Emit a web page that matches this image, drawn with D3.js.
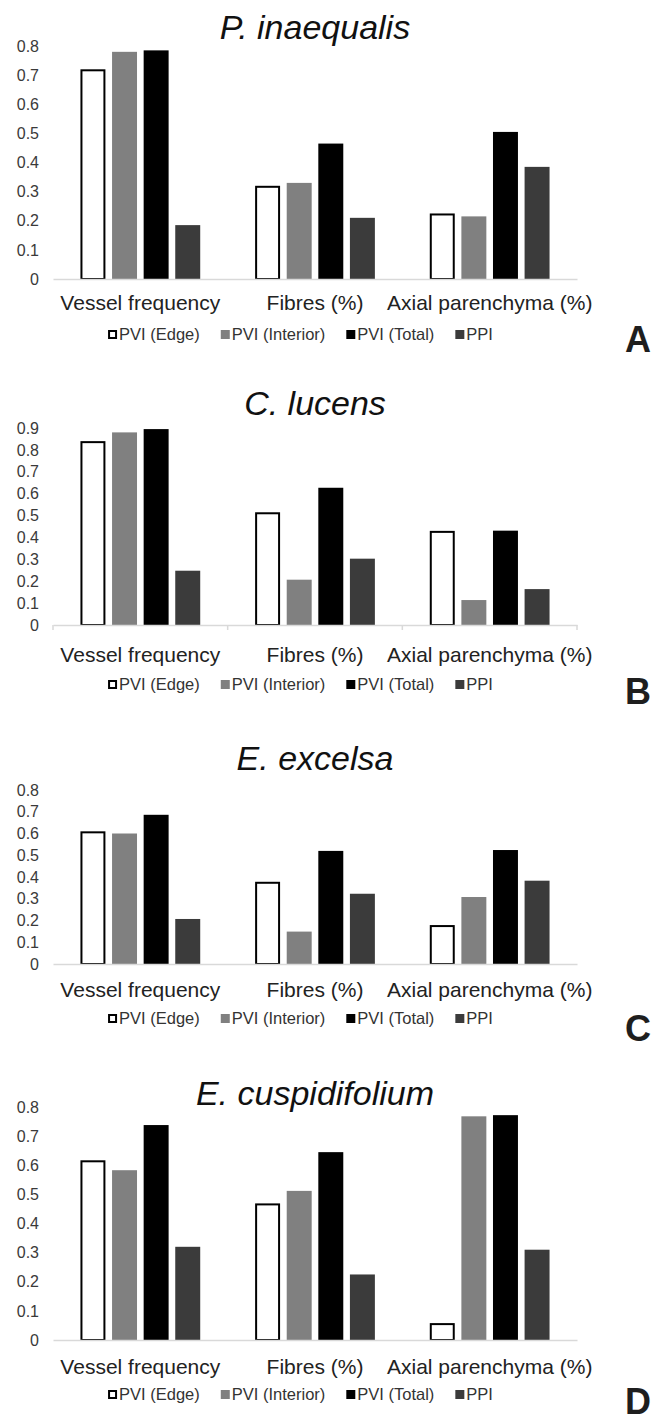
<!DOCTYPE html>
<html>
<head>
<meta charset="utf-8">
<script src="https://cdn.jsdelivr.net/npm/d3@7"></script>
<style>
  html, body { margin: 0; padding: 0; background: #ffffff; }
  svg { display: block; }
</style>
</head>
<body>
<script>
// Anatomical variables on the x axis, index series in the legend
const categories = ["Vessel frequency", "Fibres (%)", "Axial parenchyma (%)"];
const seriesNames = ["PVI (Edge)", "PVI (Interior)", "PVI (Total)", "PPI"];

// Species shown in each panel, with their panel letters
const speciesTitles = ["P. inaequalis", "C. lucens", "E. excelsa", "E. cuspidifolium"];
const panelLetters = ["A", "B", "C", "D"];
const axisMaxima = [0.8, 0.9, 0.8, 0.8];

// Index values per species: one row per category, columns follow seriesNames
const inaequalisValues = [
  [0.72, 0.78, 0.785, 0.185],
  [0.32, 0.33, 0.465, 0.21],
  [0.225, 0.215, 0.505, 0.385]
];
const lucensValues = [
  [0.84, 0.88, 0.895, 0.248],
  [0.515, 0.207, 0.627, 0.303],
  [0.43, 0.114, 0.431, 0.164]
];
const excelsaValues = [
  [0.61, 0.60, 0.686, 0.207],
  [0.378, 0.149, 0.52, 0.323],
  [0.179, 0.308, 0.524, 0.383]
];
const cuspidifoliumValues = [
  [0.617, 0.583, 0.738, 0.32],
  [0.469, 0.512, 0.645, 0.225],
  [0.058, 0.768, 0.772, 0.31]
];
const panelValues = [inaequalisValues, lucensValues, excelsaValues, cuspidifoliumValues];

// Vertical placement of each panel's parts
const panelLayout = [
  { top: 46,   base: 279,  title: 39,   cat: 310,  legend: 340,  letter: 352,  ticks: false },
  { top: 428,  base: 625,  title: 415,  cat: 662,  legend: 690,  letter: 704,  ticks: true },
  { top: 790,  base: 964,  title: 770,  cat: 997,  legend: 1024, letter: 1041, ticks: false },
  { top: 1107, base: 1340, title: 1105, cat: 1374, legend: 1400, letter: 1414, ticks: false }
];

const FONT = "'Liberation Sans', Arial, Helvetica, sans-serif";
const fills = { "PVI (Edge)": "#ffffff", "PVI (Interior)": "#808080", "PVI (Total)": "#000000", "PPI": "#3b3b3b" };

const svg = d3.select("body").append("svg")
  .attr("width", 656).attr("height", 1423)
  .style("font-family", FONT);

const x0 = d3.scaleBand().domain(categories).range([53, 577]).padding(0);
const x1 = d3.scaleBand().domain(seriesNames).range([-63.2, 63.2])
  .paddingInner(0.21).paddingOuter(0.105);

panelLayout.forEach((L, p) => {
  const g = svg.append("g");
  const yMax = axisMaxima[p];
  const y = d3.scaleLinear().domain([0, yMax]).range([L.base, L.top]);

  // species title
  g.append("text")
    .attr("x", (x0.range()[0] + x0.range()[1]) / 2)
    .attr("y", L.title)
    .attr("text-anchor", "middle")
    .style("font-size", "34px").style("font-style", "italic")
    .attr("fill", "#111")
    .text(speciesTitles[p]);

  // y axis labels
  const tickVals = d3.range(0, Math.round(yMax * 10) + 1).map(i => i / 10);
  const yAxis = d3.axisLeft(y).tickValues(tickVals).tickSize(0).tickPadding(14)
    .tickFormat(d => d === 0 ? "0" : d3.format(".1f")(d));
  const ya = g.append("g").attr("transform", "translate(53,0)").call(yAxis);
  ya.select(".domain").remove();
  ya.selectAll("text").style("font-size", "16px").style("font-family", FONT).attr("fill", "#3a3a3a");

  // bars
  const rows = panelValues[p];
  categories.forEach((c, ci) => {
    const grp = g.append("g").attr("transform", `translate(${x0(c) + x0.bandwidth() / 2},0)`);
    grp.selectAll("rect").data(seriesNames.map((s, si) => ({ s, v: rows[ci][si] })))
      .join("rect")
      .attr("x", d => d.s === "PVI (Edge)" ? x1(d.s) + 1 : x1(d.s))
      .attr("y", d => d.s === "PVI (Edge)" ? y(d.v) + 1 : y(d.v))
      .attr("width", d => d.s === "PVI (Edge)" ? x1.bandwidth() - 2 : x1.bandwidth())
      .attr("height", d => d.s === "PVI (Edge)" ? Math.max(0, L.base - y(d.v) - 1) : L.base - y(d.v))
      .attr("fill", d => fills[d.s])
      .attr("stroke", d => d.s === "PVI (Edge)" ? "#000" : "none")
      .attr("stroke-width", 2);
  });

  // x axis line and category labels
  const xAxis = d3.axisBottom(x0).tickSize(0).tickSizeOuter(0).tickPadding(0);
  const xa = g.append("g").attr("transform", `translate(0,${L.base})`).call(xAxis);
  xa.select(".domain").attr("stroke", "#d9d9d9").attr("stroke-width", 1.5);
  xa.selectAll("text")
    .attr("dy", null)
    .attr("y", L.cat - L.base)
    .style("font-size", "21px").style("font-family", FONT)
    .attr("fill", "#222");

  if (L.ticks) {
    const bounds = categories.map(c => x0(c)).concat([x0.range()[1]]);
    g.selectAll(".bound").data(bounds).join("line")
      .attr("x1", d => d).attr("x2", d => d)
      .attr("y1", L.base).attr("y2", L.base + 5)
      .attr("stroke", "#d9d9d9").attr("stroke-width", 1.5);
  }

  // legend
  const lg = g.append("g").attr("transform", `translate(0,${L.legend})`);
  const sq = 9, gapText = 2, gapItem = 21;
  let cx = 0;
  const items = [];
  seriesNames.forEach(s => {
    const it = lg.append("g");
    it.append("rect")
      .attr("x", s === "PVI (Edge)" ? 1 : 0).attr("y", -sq - 1 + (s === "PVI (Edge)" ? 1 : 0))
      .attr("width", s === "PVI (Edge)" ? sq - 2 : sq).attr("height", s === "PVI (Edge)" ? sq - 2 : sq)
      .attr("fill", fills[s])
      .attr("stroke", s === "PVI (Edge)" ? "#000" : "none").attr("stroke-width", 2);
    const t = it.append("text").attr("x", sq + gapText).attr("y", 0)
      .style("font-size", "16.5px").attr("fill", "#333").text(s);
    const w = sq + gapText + t.node().getComputedTextLength();
    items.push({ it, w });
  });
  const total = d3.sum(items, d => d.w) + gapItem * (items.length - 1);
  cx = 300.5 - total / 2;
  items.forEach(d => { d.it.attr("transform", `translate(${cx},0)`); cx += d.w + gapItem; });

  // panel letter
  g.append("text").attr("x", 651).attr("y", L.letter)
    .attr("text-anchor", "end")
    .style("font-size", "36px").style("font-weight", "bold")
    .attr("fill", "#1e1e1e")
    .text(panelLetters[p]);
});
</script>
</body>
</html>
